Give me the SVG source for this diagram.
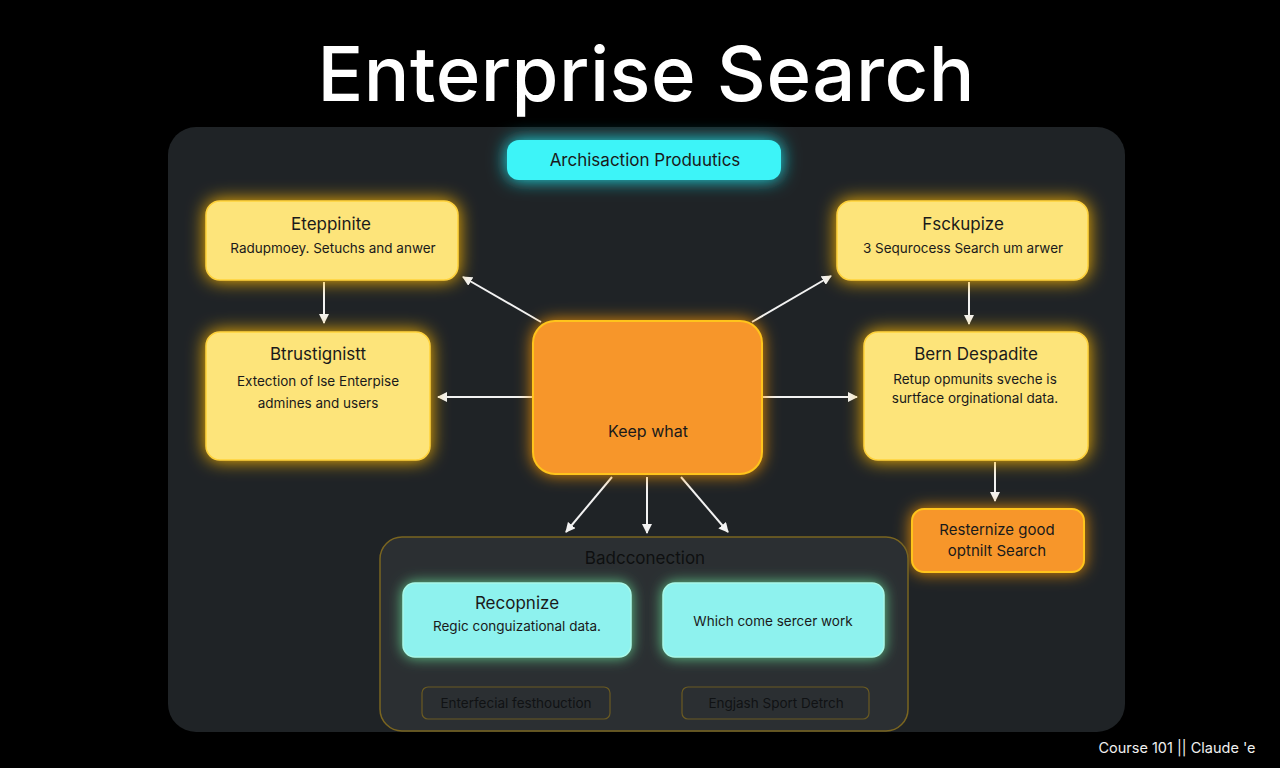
<svg xmlns="http://www.w3.org/2000/svg" width="1280" height="768" viewBox="0 0 1280 768">
<defs>
<filter id="glowY" x="-40%" y="-50%" width="180%" height="200%">
<feGaussianBlur in="SourceAlpha" stdDeviation="9" result="b"/>
<feFlood flood-color="#ffb800" flood-opacity="1"/>
<feComposite in2="b" operator="in" result="g"/>
<feMerge><feMergeNode in="g"/><feMergeNode in="SourceGraphic"/></feMerge>
</filter>
<filter id="glowO" x="-40%" y="-50%" width="180%" height="200%">
<feGaussianBlur in="SourceAlpha" stdDeviation="8" result="b"/>
<feFlood flood-color="#ff9a00" flood-opacity="0.9"/>
<feComposite in2="b" operator="in" result="g"/>
<feMerge><feMergeNode in="g"/><feMergeNode in="SourceGraphic"/></feMerge>
</filter>
<filter id="glowC" x="-40%" y="-80%" width="180%" height="260%">
<feGaussianBlur in="SourceAlpha" stdDeviation="9" result="b"/>
<feFlood flood-color="#20e8f0" flood-opacity="1"/>
<feComposite in2="b" operator="in" result="g"/>
<feMerge><feMergeNode in="g"/><feMergeNode in="SourceGraphic"/></feMerge>
</filter>
<filter id="glowG" x="-40%" y="-50%" width="180%" height="200%">
<feGaussianBlur in="SourceAlpha" stdDeviation="7" result="b"/>
<feFlood flood-color="#6ef0a0" flood-opacity="0.8"/>
<feComposite in2="b" operator="in" result="g"/>
<feMerge><feMergeNode in="g"/><feMergeNode in="SourceGraphic"/></feMerge>
</filter>
<marker id="arrW" viewBox="0 0 10 10" refX="9" refY="5" markerWidth="10" markerHeight="10" markerUnits="userSpaceOnUse" orient="auto">
<path d="M0,0 L10,5 L0,10 z" fill="#f2f2f2"/>
</marker>
<marker id="arrG" viewBox="0 0 10 10" refX="9" refY="5" markerWidth="11" markerHeight="11" markerUnits="userSpaceOnUse" orient="auto">
<path d="M0,0 L10,5 L0,10 z" fill="#b8bcb8"/>
</marker>
<style>
.t{font-family:"Inter","Liberation Sans",sans-serif;fill:#1a1a1a;text-anchor:middle}
.h{font-size:17px}
.s{font-size:13.5px}
.yel{fill:#fde47a;stroke:#ffd23a;stroke-width:1.5}
.org{fill:#f7962a;stroke:#ffc41a;stroke-width:2}
.cy{fill:#8ef2ee;stroke:#a8f8e8;stroke-width:1.5}
.w{stroke:#f2f2f2;stroke-width:2;fill:none;marker-end:url(#arrW)}
.g{stroke:#b8bcb8;stroke-width:2;fill:none;marker-end:url(#arrG)}
.sub{fill:none;stroke:#6a5a22;stroke-width:1.2}
</style>
</defs>
<rect width="1280" height="768" fill="#000"/>
<text x="646" y="101" font-family="Inter,'Liberation Sans',sans-serif" font-size="76" font-weight="500" fill="#fff" text-anchor="middle" textLength="657" lengthAdjust="spacing">Enterprise Search</text>
<rect x="168" y="127" width="957" height="605" rx="28" fill="#1f2326"/>

<g id="connectors">
<line class="w" x1="324" y1="282" x2="324" y2="323"/>
<line class="w" x1="969" y1="282" x2="969" y2="324"/>
<line class="w" x1="995" y1="462" x2="995" y2="501"/>
<line class="w" x1="541" y1="322" x2="463" y2="277"/>
<line class="w" x1="752" y1="322" x2="831" y2="276"/>
<line class="w" x1="533" y1="397" x2="438" y2="397"/>
<line class="w" x1="762" y1="397" x2="857" y2="397"/>
<line class="w" x1="612" y1="477" x2="566" y2="532"/>
<line class="w" x1="647" y1="477" x2="647" y2="533"/>
<line class="w" x1="681" y1="477" x2="728" y2="532"/>
<line class="g" x1="516" y1="659" x2="516" y2="683"/>
<line class="g" x1="774" y1="659" x2="774" y2="683"/>
</g>

<g id="top-cyan">
<rect x="507" y="140" width="274" height="40" rx="12" fill="#3ef4f8" filter="url(#glowC)"/>
<text class="t h" x="645" y="166">Archisaction Produutics</text>
</g>

<g id="node-eteppinite">
<rect class="yel" x="206" y="201" width="252" height="79" rx="14" filter="url(#glowY)"/>
<text class="t h" x="331" y="230">Eteppinite</text>
<text class="t s" x="333" y="253">Radupmoey. Setuchs and anwer</text>
</g>

<g id="node-btrustignistt">
<rect class="yel" x="206" y="332" width="224" height="128" rx="14" filter="url(#glowY)"/>
<text class="t h" x="318" y="360">Btrustignistt</text>
<text class="t s" x="318" y="386">Extection of lse Enterpise</text>
<text class="t s" x="318" y="408">admines and users</text>
</g>

<g id="node-fsckupize">
<rect class="yel" x="837" y="201" width="251" height="79" rx="14" filter="url(#glowY)"/>
<text class="t h" x="963" y="230">Fsckupize</text>
<text class="t s" x="963" y="253">3 Sequrocess Search um arwer</text>
</g>

<g id="node-bern">
<rect class="yel" x="864" y="332" width="224" height="128" rx="14" filter="url(#glowY)"/>
<text class="t h" x="976" y="360">Bern Despadite</text>
<text class="t s" x="975" y="384">Retup opmunits sveche is</text>
<text class="t s" x="975" y="403">surtface orginational data.</text>
</g>

<g id="node-keep">
<rect class="org" x="533" y="321" width="229" height="153" rx="22" filter="url(#glowO)"/>
<text class="t" x="648" y="437" font-size="16">Keep what</text>
</g>

<g id="node-resternize">
<rect class="org" x="912" y="509" width="172" height="63" rx="12" filter="url(#glowO)"/>
<text class="t" x="997" y="535" font-size="15">Resternize good</text>
<text class="t" x="997" y="556" font-size="15">optnilt Search</text>
</g>

<g id="group-badcconection">
<rect x="380" y="537" width="528" height="194" rx="22" fill="#2b2f32" stroke="#7a6520" stroke-width="1.5"/>
<text class="t h" x="645" y="564" style="fill:#0e0f10">Badcconection</text>
</g>

<g id="node-recopnize">
<rect class="cy" x="403" y="583" width="228" height="74" rx="12" filter="url(#glowG)"/>
<text class="t h" x="517" y="609" font-size="16">Recopnize</text>
<text class="t s" x="517" y="631">Regic conguizational data.</text>
</g>

<g id="node-which">
<rect class="cy" x="663" y="583" width="221" height="74" rx="12" filter="url(#glowG)"/>
<text class="t s" x="773" y="626">Which come sercer work</text>
</g>

<g id="node-enterfecial">
<rect class="sub" x="422" y="687" width="188" height="32" rx="6"/>
<text class="t s" x="516" y="708" style="fill:#101214">Enterfecial festhouction</text>
</g>

<g id="node-engjash">
<rect class="sub" x="682" y="687" width="187" height="32" rx="6"/>
<text class="t s" x="776" y="708" style="fill:#101214">Engjash Sport Detrch</text>
</g>

<text x="1177" y="753" font-family="Inter,'Liberation Sans',sans-serif" font-size="14.5" fill="#f0f0f0" text-anchor="middle">Course 101 || Claude 'e</text>
</svg>
